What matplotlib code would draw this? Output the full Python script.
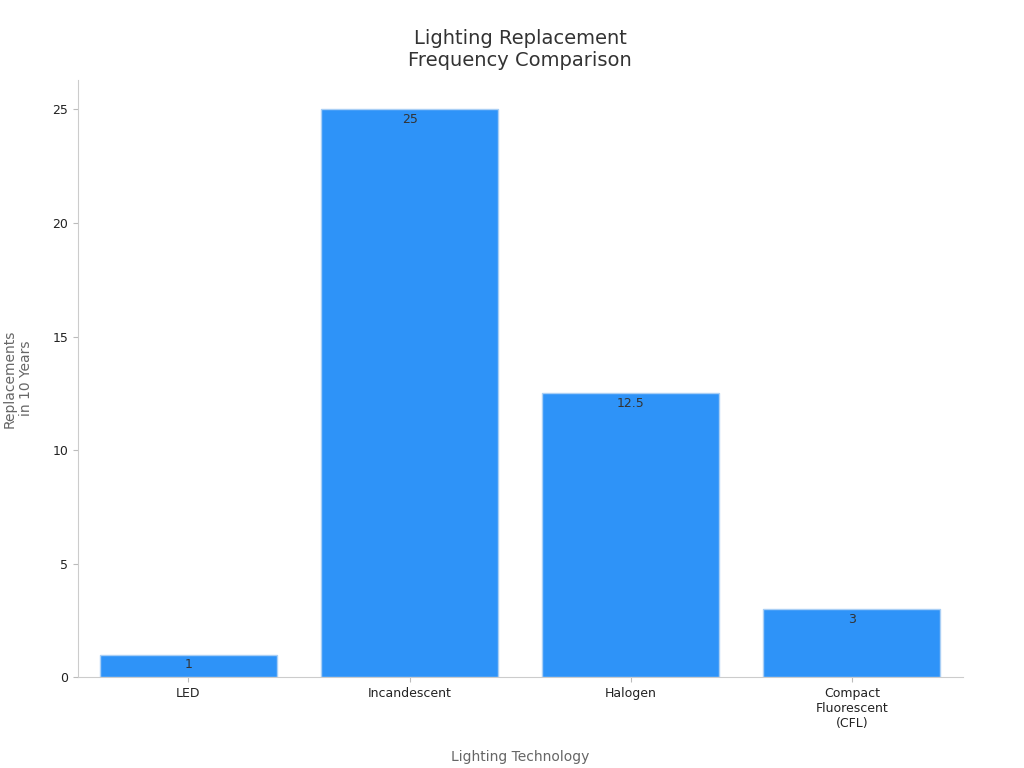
import matplotlib
matplotlib.use("Agg")
import matplotlib.pyplot as plt

categories = ["LED", "Incandescent", "Halogen", "Compact\nFluorescent\n(CFL)"]
values = [1, 25, 12.5, 3]
value_labels = ["1", "25", "12.5", "3"]

fig = plt.figure(figsize=(10.24, 7.68), dpi=100)
ax = fig.add_axes([0.076, 0.118, 0.864, 0.778])

bars = ax.bar(range(len(categories)), values, width=0.8, color="#2E93F8",
              edgecolor="#A9CFF5", linewidth=1)
for b, lab in zip(bars, value_labels):
    ax.text(b.get_x() + b.get_width() / 2, b.get_height() - 0.15, lab,
            ha="center", va="top", fontsize=9, color="#333333")

ax.set_xlim(-0.5, 3.5)
ax.set_ylim(0, 26.3)
ax.set_xticks(range(len(categories)))
ax.set_xticklabels(categories, fontsize=9, color="#222222")
ax.set_yticks([0, 5, 10, 15, 20, 25])
ax.tick_params(axis="y", labelsize=9, colors="#222222")
ax.tick_params(axis="both", color="#BBBBBB")
for s in ["top", "right"]:
    ax.spines[s].set_visible(False)
for s in ["left", "bottom"]:
    ax.spines[s].set_color("#CCCCCC")

ax.set_xlabel("Lighting Technology", fontsize=10, color="#666666", labelpad=14)
ax.set_ylabel("Replacements\nin 10 Years", fontsize=10, color="#666666", labelpad=14)
ax.set_title("Lighting Replacement\nFrequency Comparison", fontsize=14, color="#333333", pad=10)

fig.savefig("out.png", dpi=100)
